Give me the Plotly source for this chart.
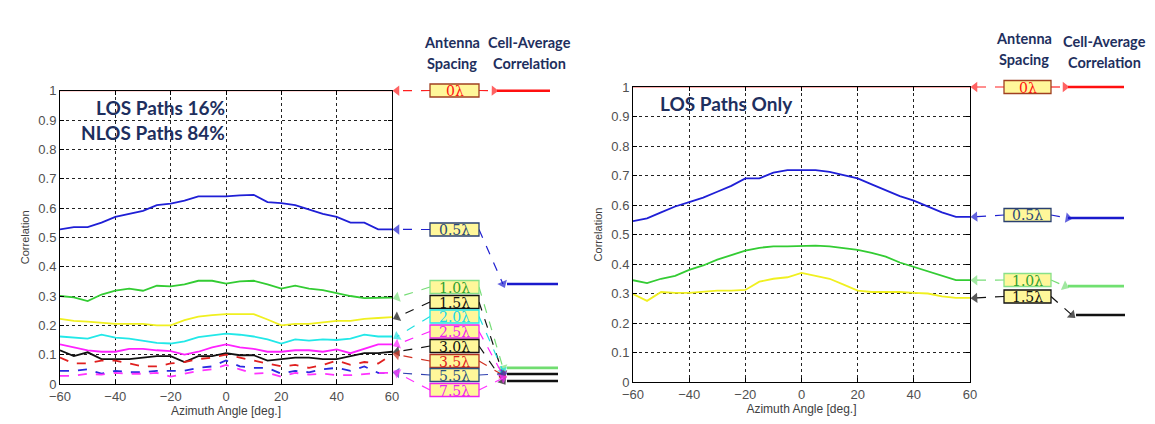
import plotly.graph_objects as go

W, H = 1155, 424
OFF = 8  # page body margin of the browser, in px

# ---------------- data ----------------
angle_deg = [-60, -55, -50, -45, -40, -35, -30, -25, -20, -15, -10, -5, 0,
             5, 10, 15, 20, 25, 30, 35, 40, 45, 50, 55, 60]

spacing_labels = ["0λ", "0.5λ", "1.0λ", "1.5λ", "2.0λ", "2.5λ", "3.0λ", "3.5λ", "5.5λ", "7.5λ"]

# Left panel: LOS 16% / NLOS 84%
mix_0_0 = [1.0, 1.0, 1.0, 1.0, 1.0, 1.0, 1.0, 1.0, 1.0, 1.0, 1.0, 1.0, 1.0,
           1.0, 1.0, 1.0, 1.0, 1.0, 1.0, 1.0, 1.0, 1.0, 1.0, 1.0, 1.0]
mix_0_5 = [0.527, 0.535, 0.535, 0.55, 0.57, 0.58, 0.59, 0.61, 0.615, 0.625, 0.64, 0.64, 0.64,
           0.643, 0.645, 0.62, 0.617, 0.61, 0.595, 0.58, 0.57, 0.55, 0.55, 0.527, 0.527]
mix_1_0 = [0.30, 0.295, 0.283, 0.305, 0.318, 0.325, 0.318, 0.335, 0.333, 0.34, 0.352, 0.352, 0.342,
           0.35, 0.352, 0.34, 0.325, 0.335, 0.325, 0.32, 0.31, 0.30, 0.293, 0.293, 0.295]
mix_1_5 = [0.222, 0.215, 0.213, 0.21, 0.205, 0.205, 0.205, 0.20, 0.20, 0.218, 0.23, 0.235, 0.238,
           0.238, 0.238, 0.22, 0.20, 0.205, 0.205, 0.21, 0.215, 0.215, 0.222, 0.225, 0.228]
mix_2_0 = [0.162, 0.158, 0.155, 0.168, 0.158, 0.155, 0.148, 0.14, 0.138, 0.145, 0.16, 0.165, 0.172,
           0.168, 0.162, 0.152, 0.138, 0.152, 0.148, 0.152, 0.15, 0.155, 0.168, 0.162, 0.162]
mix_2_5 = [0.135, 0.125, 0.115, 0.11, 0.11, 0.12, 0.12, 0.115, 0.112, 0.10, 0.11, 0.125, 0.135,
           0.125, 0.12, 0.11, 0.11, 0.115, 0.115, 0.11, 0.118, 0.105, 0.12, 0.135, 0.135]
mix_3_0 = [0.115, 0.095, 0.108, 0.085, 0.085, 0.085, 0.09, 0.095, 0.095, 0.075, 0.095, 0.095, 0.105,
           0.098, 0.098, 0.08, 0.085, 0.09, 0.09, 0.085, 0.085, 0.095, 0.105, 0.105, 0.11]
mix_3_5 = [0.09, 0.07, 0.07, 0.08, 0.08, 0.07, 0.06, 0.06, 0.07, 0.075, 0.085, 0.09, 0.10,
           0.09, 0.08, 0.07, 0.06, 0.065, 0.055, 0.065, 0.08, 0.065, 0.075, 0.07, 0.10]
mix_5_5 = [0.045, 0.045, 0.05, 0.035, 0.045, 0.04, 0.04, 0.045, 0.045, 0.045, 0.055, 0.06, 0.08,
           0.06, 0.055, 0.055, 0.035, 0.045, 0.04, 0.05, 0.055, 0.045, 0.06, 0.038, 0.038]
mix_7_5 = [0.028, 0.028, 0.035, 0.032, 0.038, 0.035, 0.035, 0.038, 0.025, 0.035, 0.045, 0.05, 0.065,
           0.05, 0.035, 0.038, 0.025, 0.038, 0.032, 0.035, 0.03, 0.03, 0.035, 0.038, 0.038]

# Right panel: LOS paths only
los_0_0 = [1.0, 1.0, 1.0, 1.0, 1.0, 1.0, 1.0, 1.0, 1.0, 1.0, 1.0, 1.0, 1.0,
           1.0, 1.0, 1.0, 1.0, 1.0, 1.0, 1.0, 1.0, 1.0, 1.0, 1.0, 1.0]
los_0_5 = [0.545, 0.555, 0.575, 0.595, 0.61, 0.625, 0.645, 0.665, 0.69, 0.69, 0.71, 0.718, 0.718,
           0.718, 0.712, 0.70, 0.69, 0.67, 0.65, 0.63, 0.615, 0.595, 0.575, 0.56, 0.56]
los_1_0 = [0.345, 0.335, 0.35, 0.36, 0.38, 0.395, 0.415, 0.43, 0.445, 0.455, 0.46, 0.46, 0.462,
           0.462, 0.46, 0.455, 0.448, 0.438, 0.425, 0.405, 0.39, 0.375, 0.36, 0.345, 0.345]
los_1_5 = [0.298, 0.275, 0.305, 0.302, 0.302, 0.305, 0.31, 0.31, 0.312, 0.34, 0.35, 0.355, 0.37,
           0.36, 0.35, 0.33, 0.31, 0.305, 0.305, 0.305, 0.302, 0.30, 0.29, 0.285, 0.285]

# cell-average correlation per spacing
cell_avg_left = [1.0, 0.341, 0.055, 0.034, 0.045, 0.030, 0.010, 0.030, 0.035, 0.020]
cell_avg_right = [1.0, 0.556, 0.325, 0.227]

# ---------------- styles ----------------
left_series = [mix_0_0, mix_0_5, mix_1_0, mix_1_5, mix_2_0, mix_2_5, mix_3_0, mix_3_5, mix_5_5, mix_7_5]
right_series = [los_0_0, los_0_5, los_1_0, los_1_5]

curve_colors = ["#ff6060", "#1f1fd6", "#33cc33", "#f0f020", "#22e8e8", "#ff22ff",
                "#111111", "#e02020", "#2a2ae0", "#ff33ff"]
curve_dash = ["solid"] * 7 + ["dash", "dash", "dash"]
arrow_colors = ["#ff2020", "#2020d0", "#77dd77", "#111111", "#22e0e0", "#ff22ff",
                "#111111", "#d03020", "#3040b0", "#ff33ff"]
box_text_colors = ["#ff1010", "#2a4878", "#30a030", "#111111", "#22d8e8", "#ee22ee",
                   "#111111", "#e02020", "#2a5080", "#ee22ee"]
box_border_colors = ["#a04020", "#2a4070", "#88e088", "#111111", "#22e8e8", "#ee22ee",
                     "#111111", "#b03020", "#2a5080", "#ee22ee"]
cell_line_colors = {0: "#ff1010", 1: "#1a1acc", 2: "#70dd70", 3: "#111111", 6: "#111111"}
cell_line_colors_right = {0: "#ff1010", 1: "#1a1acc", 2: "#70e070", 3: "#111111"}

NAVY = "#1e2f5e"
TICK_GREY = "#505050"
BOX_FILL = "#fff79a"

# ---------------- layout geometry (screen pixels) ----------------
PL = dict(x0=60, x1=392, ytop=90.7, ybot=384)
PR = dict(x0=633, x1=970, ytop=87, ybot=382)


def dom_x(p):
    return [(p["x0"] - OFF) / W, (p["x1"] - OFF) / W]


def dom_y(p):
    return [1 - (p["ybot"] - OFF) / H, 1 - (p["ytop"] - OFF) / H]


def overlay_range(p):
    s = p["ybot"] - p["ytop"]
    return [(p["ybot"] - H - OFF) / s, (p["ybot"] - OFF) / s]


def px_to_val(p, py):
    return (p["ybot"] - py) / (p["ybot"] - p["ytop"])


def py_paper(py):
    return 1 - (py - OFF) / H


left_box_py = [90.5, 229.5, 287, 302, 316.5, 331.5, 346, 361, 375, 390]
right_box_py = [87, 215, 280, 296.5]
BOX_HALF = 6.5

fig = go.Figure()

# ---- main curves ----
for i, ys in enumerate(left_series):
    fig.add_trace(go.Scatter(x=angle_deg, y=ys, mode="lines", xaxis="x", yaxis="y",
                             line=dict(color=curve_colors[i], width=1.2 if i == 0 else 1.8,
                                       dash=curve_dash[i]),
                             showlegend=False, hoverinfo="skip"))
for i, ys in enumerate(right_series):
    fig.add_trace(go.Scatter(x=angle_deg, y=ys, mode="lines", xaxis="x2", yaxis="y2",
                             line=dict(color=curve_colors[i], width=1.2 if i == 0 else 1.8),
                             showlegend=False, hoverinfo="skip"))


def arrow(x0, y0, x1, y1, color, yaxis):
    fig.add_trace(go.Scatter(
        x=[x0, x1], y=[y0, y1], mode="lines+markers", xaxis="x3", yaxis=yaxis,
        line=dict(color=color, width=1.2, dash="dash"),
        marker=dict(symbol="triangle-up", size=[0, 9], color=color, angleref="previous",
                    line=dict(width=0)),
        showlegend=False, hoverinfo="skip", cliponaxis=False))


annotations = []
shapes = []
BOX_FONT = dict(family="DejaVu Serif", size=14)


def box(xa, xb, py, label, i):
    shapes.append(dict(type="rect", xref="x3", yref="paper", x0=xa, x1=xb,
                       y0=py_paper(py + BOX_HALF), y1=py_paper(py - BOX_HALF),
                       fillcolor=BOX_FILL, line=dict(color=box_border_colors[i], width=1.3),
                       layer="above"))
    annotations.append(dict(x=(xa + xb) / 2, y=py_paper(py + 0.5), xref="x3", yref="paper",
                            text=label, showarrow=False, xanchor="center", yanchor="middle",
                            font=dict(color=box_text_colors[i], **BOX_FONT)))


# ---- left annotation block ----
BXL0, BXL1 = 430, 479
for i, lab in enumerate(spacing_labels):
    bv = px_to_val(PL, left_box_py[i])
    arrow(BXL0, bv, PL["x1"] + 5, left_series[i][-1], arrow_colors[i], "y3")
    if i == 0:
        arrow(BXL1, bv, 494, cell_avg_left[i], arrow_colors[i], "y3")
    else:
        arrow(BXL1, bv, 503, cell_avg_left[i], arrow_colors[i], "y3")
    box(BXL0, BXL1, left_box_py[i], lab, i)
for i, col in cell_line_colors.items():
    xs = [497, 550] if i == 0 else [507, 558]
    fig.add_trace(go.Scatter(x=xs, y=[cell_avg_left[i], cell_avg_left[i]], mode="lines",
                             xaxis="x3", yaxis="y3", line=dict(color=col, width=2.6),
                             showlegend=False, hoverinfo="skip"))

# ---- right annotation block ----
BXR0, BXR1 = 1004, 1051
right_tips = [1065, 1068, 1065, 1072]
for i in range(4):
    bv = px_to_val(PR, right_box_py[i])
    arrow(BXR0, bv, PR["x1"] + 5, right_series[i][-1], arrow_colors[i], "y4")
    arrow(BXR1, bv, right_tips[i], cell_avg_right[i], arrow_colors[i], "y4")
    box(BXR0, BXR1, right_box_py[i], spacing_labels[i], i)
for i, col in cell_line_colors_right.items():
    xs = [1076, 1125] if i == 3 else [1068, 1124]
    fig.add_trace(go.Scatter(x=xs, y=[cell_avg_right[i], cell_avg_right[i]], mode="lines",
                             xaxis="x3", yaxis="y4", line=dict(color=col, width=2.6),
                             showlegend=False, hoverinfo="skip"))


def text(x, y, s, size, color=NAVY, bold=True, family="Lato", anchor="center"):
    annotations.append(dict(x=(x - OFF) / W, y=py_paper(y), xref="paper", yref="paper",
                            text=f"<b>{s}</b>" if bold else s, showarrow=False,
                            xanchor=anchor, yanchor="middle",
                            font=dict(family=family, size=size, color=color)))


# headers
text(452, 43, "Antenna", 14.5)
text(452, 63, "Spacing", 14.5)
text(529, 43, "Cell-Average", 14.5)
text(529, 63, "Correlation", 14.5)
text(1024, 39, "Antenna", 14.5)
text(1024, 60, "Spacing", 14.5)
text(1104, 41, "Cell-Average", 14.5)
text(1104, 62, "Correlation", 14.5)

# in-plot titles
text(227, 107, "LOS Paths 16%", 19, anchor="right")
text(227, 132, "NLOS Paths 84%", 19, anchor="right")
text(726, 103, "LOS Paths Only", 19)

axis_common = dict(showline=True, linecolor="black", linewidth=1, mirror="ticks",
                   ticks="inside", ticklen=4, tickcolor="black", automargin=False,
                   showgrid=True, gridcolor="#222222", griddash="dot", gridwidth=1,
                   zeroline=False, tickfont=dict(family="Liberation Sans", size=13, color=TICK_GREY))
xtick = dict(tickvals=[-60, -40, -20, 0, 20, 40, 60], range=[-60, 60])
ytick = dict(tickvals=[0, 0.1, 0.2, 0.3, 0.4, 0.5, 0.6, 0.7, 0.8, 0.9, 1],
             ticktext=["0", "0.1", "0.2", "0.3", "0.4", "0.5", "0.6", "0.7", "0.8", "0.9", "1"],
             range=[0, 1])
xtitle = dict(text="Azimuth Angle [deg.]", font=dict(family="Liberation Sans", size=12, color="#404040"),
              standoff=4)
ytitle = dict(text="Correlation", font=dict(family="Liberation Sans", size=11, color="#404040"),
              standoff=6)

fig.update_layout(
    width=W, height=H, margin=dict(l=0, r=0, t=0, b=0, autoexpand=False),
    paper_bgcolor="white", plot_bgcolor="rgba(0,0,0,0)",
    showlegend=False,
    xaxis=dict(domain=dom_x(PL), anchor="y", title=xtitle, **xtick, **axis_common),
    yaxis=dict(domain=dom_y(PL), anchor="x", title=ytitle, **ytick, **axis_common),
    xaxis2=dict(domain=dom_x(PR), anchor="y2", title=xtitle, **xtick, **axis_common),
    yaxis2=dict(domain=dom_y(PR), anchor="x2", title=ytitle, **ytick, **axis_common),
    xaxis3=dict(domain=[0, 1], range=[OFF, W + OFF], anchor="y3", visible=False, fixedrange=True,
                automargin=False),
    yaxis3=dict(domain=[0, 1], range=overlay_range(PL), anchor="x3", visible=False, fixedrange=True,
                automargin=False),
    yaxis4=dict(domain=[0, 1], range=overlay_range(PR), anchor="x3", overlaying="y3",
                visible=False, fixedrange=True, automargin=False),
    annotations=annotations,
    shapes=shapes,
)

fig.write_html("out.html")
